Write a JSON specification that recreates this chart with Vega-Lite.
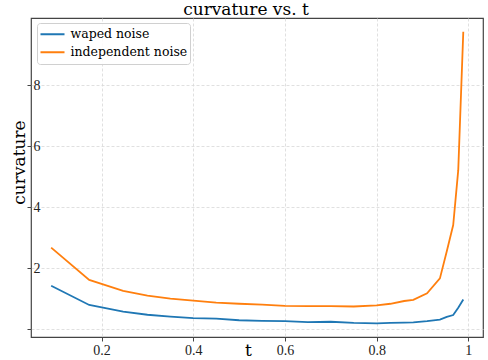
{
  "$schema": "https://vega.github.io/schema/vega-lite/v6.json",
  "width": 452,
  "height": 319,
  "autosize": "none",
  "padding": {"left": 31, "top": 18, "right": 5, "bottom": 23},
  "background": "white",
  "title": {"text": "curvature vs. t", "font": "DejaVu Serif", "fontSize": 17, "fontWeight": "normal", "color": "#000", "baseline": "alphabetic", "offset": 2, "dx": -11, "dy": 16},
  "config": {
    "view": {"stroke": "#444", "strokeWidth": 1.2},
    "font": "DejaVu Serif"
  },
  "data": {"values": [
    {"t": 0.09, "v": 1.42, "s": "waped noise"},
    {"t": 0.173, "v": 0.79, "s": "waped noise"},
    {"t": 0.247, "v": 0.57, "s": "waped noise"},
    {"t": 0.30, "v": 0.47, "s": "waped noise"},
    {"t": 0.35, "v": 0.41, "s": "waped noise"},
    {"t": 0.40, "v": 0.36, "s": "waped noise"},
    {"t": 0.45, "v": 0.34, "s": "waped noise"},
    {"t": 0.50, "v": 0.29, "s": "waped noise"},
    {"t": 0.55, "v": 0.27, "s": "waped noise"},
    {"t": 0.60, "v": 0.26, "s": "waped noise"},
    {"t": 0.65, "v": 0.23, "s": "waped noise"},
    {"t": 0.70, "v": 0.24, "s": "waped noise"},
    {"t": 0.75, "v": 0.20, "s": "waped noise"},
    {"t": 0.80, "v": 0.19, "s": "waped noise"},
    {"t": 0.83, "v": 0.20, "s": "waped noise"},
    {"t": 0.86, "v": 0.21, "s": "waped noise"},
    {"t": 0.88, "v": 0.22, "s": "waped noise"},
    {"t": 0.91, "v": 0.26, "s": "waped noise"},
    {"t": 0.938, "v": 0.31, "s": "waped noise"},
    {"t": 0.953, "v": 0.40, "s": "waped noise"},
    {"t": 0.967, "v": 0.46, "s": "waped noise"},
    {"t": 0.978, "v": 0.70, "s": "waped noise"},
    {"t": 0.989, "v": 0.97, "s": "waped noise"},
    {"t": 0.09, "v": 2.67, "s": "independent noise"},
    {"t": 0.173, "v": 1.61, "s": "independent noise"},
    {"t": 0.247, "v": 1.25, "s": "independent noise"},
    {"t": 0.30, "v": 1.10, "s": "independent noise"},
    {"t": 0.35, "v": 1.00, "s": "independent noise"},
    {"t": 0.40, "v": 0.93, "s": "independent noise"},
    {"t": 0.45, "v": 0.87, "s": "independent noise"},
    {"t": 0.50, "v": 0.83, "s": "independent noise"},
    {"t": 0.55, "v": 0.80, "s": "independent noise"},
    {"t": 0.60, "v": 0.76, "s": "independent noise"},
    {"t": 0.65, "v": 0.75, "s": "independent noise"},
    {"t": 0.70, "v": 0.75, "s": "independent noise"},
    {"t": 0.75, "v": 0.74, "s": "independent noise"},
    {"t": 0.80, "v": 0.78, "s": "independent noise"},
    {"t": 0.83, "v": 0.83, "s": "independent noise"},
    {"t": 0.86, "v": 0.92, "s": "independent noise"},
    {"t": 0.88, "v": 0.96, "s": "independent noise"},
    {"t": 0.91, "v": 1.17, "s": "independent noise"},
    {"t": 0.938, "v": 1.66, "s": "independent noise"},
    {"t": 0.953, "v": 2.55, "s": "independent noise"},
    {"t": 0.967, "v": 3.41, "s": "independent noise"},
    {"t": 0.978, "v": 5.21, "s": "independent noise"},
    {"t": 0.989, "v": 9.75, "s": "independent noise"}
  ]},
  "mark": {"type": "line", "strokeWidth": 1.8, "clip": true},
  "encoding": {
    "x": {
      "field": "t", "type": "quantitative",
      "scale": {"domain": [0.046, 1.032], "nice": false, "zero": false},
      "axis": {
        "title": "t", "values": [0.2, 0.4, 0.6, 0.8, 1],
        "labelExpr": "datum.value == 1 ? '1' : format(datum.value, '.1f')",
        "labelFont": "Liberation Serif", "labelFontSize": 14, "labelColor": "#222", "labelPadding": 2,
        "titleFont": "DejaVu Serif", "titleFontSize": 17, "titleFontWeight": "normal", "titleColor": "#000",
        "titleX": 217, "titleY": 18, "titleBaseline": "alphabetic",
        "domain": false, "ticks": true, "tickSize": 4, "tickColor": "#444",
        "grid": true, "gridColor": "#d8d8d8", "gridDash": [3, 2], "gridWidth": 0.8
      }
    },
    "y": {
      "field": "v", "type": "quantitative",
      "scale": {"domain": [-0.26, 10.2], "nice": false, "zero": false},
      "axis": {
        "title": "curvature", "values": [0, 2, 4, 6, 8],
        "labelExpr": "datum.value == 0 ? '' : datum.label",
        "labelFont": "Liberation Serif", "labelFontSize": 14, "labelColor": "#222",
        "labelAlign": "left", "labelPadding": -6,
        "titleFont": "DejaVu Serif", "titleFontSize": 17, "titleFontWeight": "normal", "titleColor": "#000",
        "titleX": -12, "titleY": 144, "titleBaseline": "middle",
        "domain": false, "ticks": true, "tickSize": 4, "tickColor": "#444",
        "grid": true, "gridColor": "#d8d8d8", "gridDash": [3, 2], "gridWidth": 0.8
      }
    },
    "color": {
      "field": "s", "type": "nominal",
      "scale": {"domain": ["waped noise", "independent noise"], "range": ["#1f77b4", "#ff7f0e"]},
      "legend": {
        "title": null, "orient": "none", "legendX": 6, "legendY": 5,
        "symbolType": "stroke", "symbolSize": 576, "symbolStrokeWidth": 2,
        "clipHeight": 17.7, "rowPadding": 0, "padding": 2.5,
        "labelFont": "DejaVu Serif", "labelFontSize": 12.5, "labelColor": "#000", "labelOffset": 5,
        "strokeColor": "#d0d0d0", "fillColor": "rgba(255,255,255,0.85)", "cornerRadius": 3
      }
    }
  }
}
